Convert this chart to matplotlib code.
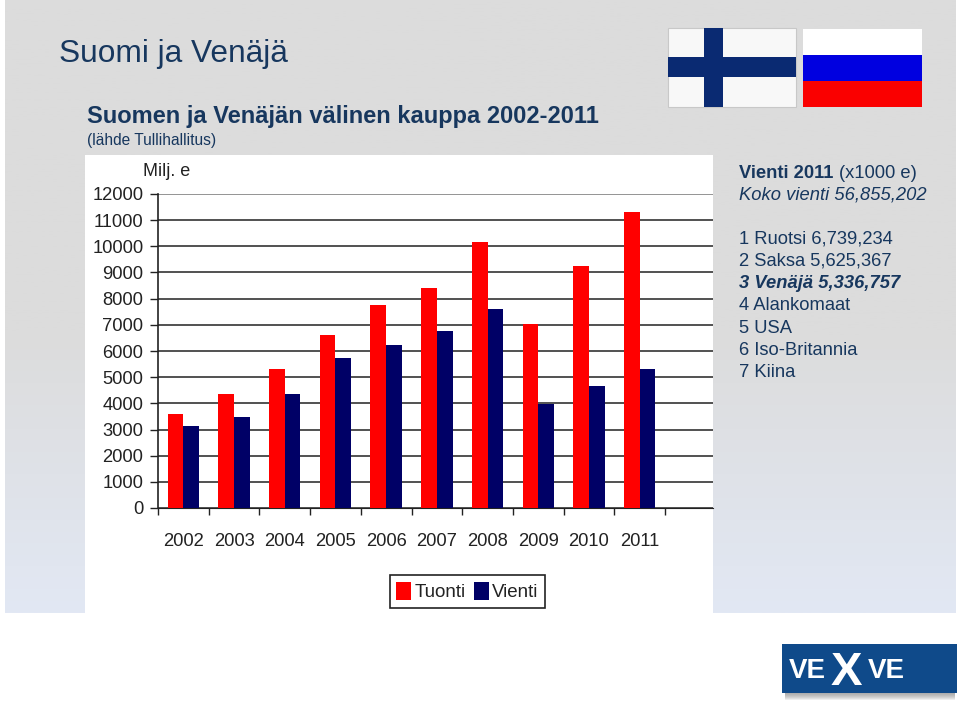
import numpy as np
import matplotlib
matplotlib.use("Agg")
import matplotlib.pyplot as plt
from matplotlib.patches import Rectangle

plt.rcParams['font.family'] = ['Liberation Sans', 'DejaVu Sans']

years = ["2002", "2003", "2004", "2005", "2006", "2007", "2008", "2009", "2010", "2011"]
tuonti = [3590, 4360, 5310, 6610, 7760, 8400, 10160, 7030, 9250, 11300]
vienti = [3130, 3480, 4360, 5730, 6230, 6760, 7600, 3970, 4660, 5310]
y_ticks = [0, 1000, 2000, 3000, 4000, 5000, 6000, 7000, 8000, 9000, 10000, 11000, 12000]

W, H = 960, 703
navy = "#17375e"
fig = plt.figure(figsize=(W / 100, H / 100), dpi=100, facecolor="white")

# whole slide in pixel coordinates
bg = fig.add_axes([0, 0, 1, 1])
bg.axis("off")

grad = np.ones((256, 1, 3))
top = np.array([220, 220, 220]) / 255
bottom = np.array([226, 232, 244]) / 255
for i in range(256):
    t = max(0, (i / 255 - 0.55) / 0.45)
    grad[i, 0] = top + (bottom - top) * t
bg.imshow(grad, extent=[5, 956, 613, 0], aspect="auto", zorder=0)
bg.set_xlim(0, W)
bg.set_ylim(H, 0)
bg.add_patch(Rectangle((85, 155), 628, 458, fc="white", ec="none", zorder=1))

bg.text(59, 54, "Suomi ja Venäjä", fontsize=22.8, color=navy, va="center")
bg.text(87, 116, "Suomen ja Venäjän välinen kauppa 2002-2011", fontsize=17, color=navy,
        weight="bold", va="center")
bg.text(87, 140, "(lähde Tullihallitus)", fontsize=11.2, color=navy, va="center")
bg.text(143, 172, "Milj. e", fontsize=13, color="#222222", va="center")

# flags
bg.add_patch(Rectangle((668, 28), 128, 79, fc="#f8f8f8", ec="#c8c8c8", lw=0.8, zorder=2))
bg.add_patch(Rectangle((704, 28), 19, 79, fc="#0a2a72", ec="none", zorder=3))
bg.add_patch(Rectangle((668, 57), 128, 20, fc="#0a2a72", ec="none", zorder=3))
bg.add_patch(Rectangle((803, 29), 119, 26, fc="white", ec="none", zorder=2))
bg.add_patch(Rectangle((803, 55), 119, 26, fc="#0000e0", ec="none", zorder=2))
bg.add_patch(Rectangle((803, 81), 119, 26, fc="#fa0000", ec="none", zorder=2))

# right hand text
bg.text(739, 173, "Vienti 2011", fontsize=13.2, color=navy, weight="bold", va="center")
bg.text(839, 173, "(x1000 e)", fontsize=13.2, color=navy, va="center")
bg.text(739, 195, "Koko vienti 56,855,202", fontsize=13.2, color=navy, style="italic", va="center")
rows = ["1 Ruotsi 6,739,234", "2 Saksa 5,625,367", "3 Venäjä 5,336,757",
        "4 Alankomaat", "5 USA", "6 Iso-Britannia", "7 Kiina"]
for i, row in enumerate(rows):
    if i == 2:
        bg.text(739, 239 + i * 22.3, row, fontsize=13.2, color=navy, weight="bold",
                style="italic", va="center")
    else:
        bg.text(739, 239 + i * 22.3, row, fontsize=13.2, color=navy, va="center")

# logo
for i in range(7):
    bg.add_patch(Rectangle((785, 693), 170, i + 1, fc="#808080", ec="none", alpha=0.13, zorder=2))
bg.add_patch(Rectangle((782, 644), 175, 49, fc="#0f4a8a", ec="none", zorder=3))
bg.text(789, 671, "VE", fontsize=20, color="white", weight="bold", va="center", zorder=4)
bg.text(831, 673, "X", fontsize=34, color="white", weight="bold", va="center", zorder=4)
bg.text(868, 671, "VE", fontsize=20, color="white", weight="bold", va="center", zorder=4)

# chart
x0, x1, y0, y1 = 158, 713, 508, 194
step = 50.7
ax = fig.add_axes([x0 / W, 1 - y0 / H, (x1 - x0) / W, (y0 - y1) / H])
ax.patch.set_alpha(0)
pos = np.arange(len(years)) + 0.5
w = 0.31
ax.bar(pos - w / 2, tuonti, w, color="#ff0000", label="Tuonti", zorder=3)
ax.bar(pos + w / 2, vienti, w, color="#000066", label="Vienti", zorder=3)
ax.set_xlim(0, (x1 - x0) / step)
ax.set_ylim(0, 12000)
ax.set_yticks(y_ticks)
ax.set_yticklabels([str(v) for v in y_ticks], fontsize=13.2, color="#222222")
ax.set_xticks(np.arange(len(years) + 1))
ax.set_xticklabels([])
ax.set_xticks(pos, minor=True)
ax.set_xticklabels(years, minor=True, fontsize=13.2, color="#222222")
ax.tick_params(axis="y", length=5.5, width=1, color="#222222", pad=5)
ax.tick_params(axis="x", which="major", length=5, width=1, color="#222222")
ax.tick_params(axis="x", which="minor", length=0, pad=18)
ax.grid(axis="y", color="#222222", lw=1.1, zorder=1)
ax.get_ygridlines()[-1].set_color("#777777")
ax.spines[["top", "right"]].set_visible(False)
ax.spines[["left", "bottom"]].set_color("#222222")
ax.spines["left"].set_linewidth(1.2)

leg = fig.legend(loc="center", bbox_to_anchor=(467.5 / W, 1 - 591.5 / H), ncol=2, fontsize=13.5,
                 frameon=True, fancybox=False, edgecolor="#222222", framealpha=1,
                 handlelength=0.8, handleheight=1.1, handletextpad=0.2, columnspacing=0.4,
                 labelcolor="#222222", borderpad=0.35, borderaxespad=0)
leg.get_frame().set_linewidth(1.2)

fig.savefig("out.png", dpi=100)
